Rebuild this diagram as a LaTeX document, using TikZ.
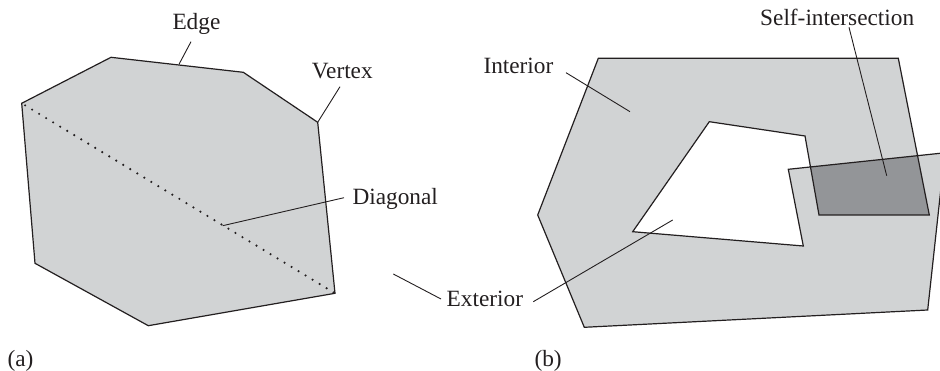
\documentclass[tikz,border=0pt]{standalone}
\usepackage{fontspec}
\setmainfont{Liberation Serif}
\definecolor{lightfill}{HTML}{D1D3D4}
\definecolor{darkfill}{HTML}{939598}
\definecolor{ink}{HTML}{231F20}
\begin{document}
\begin{tikzpicture}[x=1pt,y=-1pt,
  outline/.style={draw=ink,line width=1.2pt,line join=miter},
  leader/.style={draw=ink,line width=0.9pt},
  diagdots/.style={draw=ink,line width=2.4pt,line cap=round,dash pattern=on 0pt off 8.2pt,dash phase=-4pt},
  lbl/.style={anchor=base west,inner sep=0pt,text=ink,font=\fontsize{23.3}{27}\selectfont}]
\useasboundingbox (0,0) rectangle (940,371);
\clip (0,0) rectangle (940,371);
% ---------- (a) ----------
\coordinate (A1) at (21.7,103.3);
\coordinate (A2) at (111,57.3);
\coordinate (A3) at (243.3,72.3);
\coordinate (A4) at (317.7,122.3);
\coordinate (A5) at (335,293.3);
\coordinate (A6) at (148.3,325.7);
\coordinate (A7) at (35,263.3);
\fill[lightfill] (A1) -- (A2) -- (A3) -- (A4) -- (A5) -- (A6) -- (A7) -- cycle;
\draw[diagdots] (A1) -- (A5);
\draw[outline] (A1) -- (A2) -- (A3) -- (A4) -- (A5) -- (A6) -- (A7) -- cycle;
\node[lbl] (edge) at (172.3,29.3) {Edge};
\node[lbl] (vertex) at (311.7,78.3) {Vertex};
\node[lbl] (diagonal) at (352.3,205) {Diagonal};
\node[lbl] (exterior) at (446.5,306.5) {Exterior};
\node[lbl] (a) at (7.3,366.5) {(a)};
\coordinate (eS) at (191,41.7);   \coordinate (eE) at (179,64.3);
\coordinate (vS) at (340,86.7);
\coordinate (dS) at (344,197.7);  \coordinate (dE) at (222.7,225.7);
\coordinate (xS) at (441,299);  \coordinate (xE) at (393.3,274);
\coordinate (xS2) at (533.3,301.7); \coordinate (xE2) at (672.7,220);
\draw[leader] (eS) -- (eE);
\draw[leader] (vS) -- (A4);
\draw[leader] (dS) -- (dE);
\draw[leader] (xS) -- (xE);
% ---------- (b) ----------
\coordinate (R0) at (598.3,58.3);
\coordinate (R1) at (898.3,58.3);
\coordinate (R2) at (929.3,215);
\coordinate (R3) at (819,215);
\coordinate (R4) at (805,136);
\coordinate (R5) at (709.3,121.7);
\coordinate (R6) at (632.7,231.7);
\coordinate (R7) at (803.3,246);
\coordinate (R8) at (788.3,169.3);
\coordinate (R9) at (944.8,152.8);
\coordinate (R10) at (927.7,310);
\coordinate (R11) at (584.3,327.3);
\coordinate (R12) at (537.7,215);
\fill[lightfill,nonzero rule] (R0) -- (R1) -- (R2) -- (R3) -- (R4) -- (R5) -- (R6) -- (R7) -- (R8) -- (R9) -- (R10) -- (R11) -- (R12) -- cycle;
\fill[darkfill] (intersection of R8--R9 and R3--R4) -- (intersection of R8--R9 and R1--R2) -- (R2) -- (R3) -- cycle;
\draw[outline] (R0) -- (R1) -- (R2) -- (R3) -- (R4) -- (R5) -- (R6) -- (R7) -- (R8) -- (R9) -- (R10) -- (R11) -- (R12) -- cycle;
\node[lbl] (interior) at (483.3,74) {Interior};
\node[lbl] (selfint) at (760,26) {Self-intersection};
\node[lbl] (b) at (534.3,366.5) {(b)};
\coordinate (iS) at (566,72.7);  \coordinate (iE) at (630,111.7);
\coordinate (sS) at (849,27.3);  \coordinate (sE) at (886.7,175.7);
\draw[leader] (iS) -- (iE);
\draw[leader] (sS) -- (sE);
\draw[leader] (xS2) -- (xE2);
\end{tikzpicture}
\end{document}
